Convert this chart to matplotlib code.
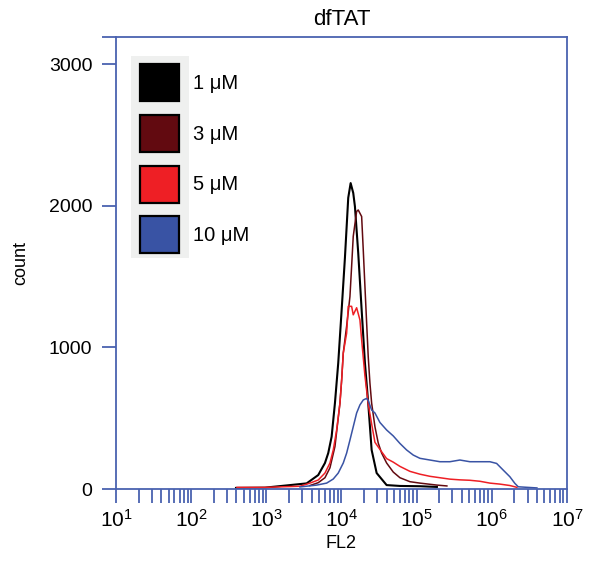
import matplotlib
matplotlib.use('Agg')
import matplotlib.pyplot as plt
from matplotlib.patches import Patch, Rectangle
from matplotlib.ticker import LogLocator, FixedLocator

plt.rcParams['font.family'] = ['Liberation Sans', 'DejaVu Sans']
plt.rcParams['mathtext.default'] = 'regular'

# histogram traces: FL2 intensity vs count
fl2_1uM = [395, 960, 3440, 4910, 6030, 6670, 7400, 8190, 9060, 10060, 11120, 12310, 13250,
           14350, 15110, 16720, 18560, 20530, 22710, 25210, 29400, 39900, 60000, 110700, 186200]
cnt_1uM = [8, 10, 40, 99, 184, 254, 370, 607, 890, 1265, 1632, 2056, 2160,
           2090, 1995, 1666, 1265, 890, 607, 276, 113, 28, 22, 20, 15]

fl2_3uM = [3810, 4910, 6030, 7030, 8190, 9550, 10060, 10570, 11720, 12310, 12970, 13650, 14350,
           15920, 16720, 18560, 19500, 20530, 21630, 22710, 23920, 25210, 27900, 30860, 34250,
           39900, 48900, 60000, 81500, 110700, 186200, 252900]
cnt_3uM = [25, 45, 80, 150, 300, 607, 770, 960, 1150, 1250, 1359, 1571, 1784,
           1960, 1970, 1924, 1689, 1430, 1173, 935, 749, 607, 440, 325, 254,
           184, 120, 80, 52, 42, 28, 22]

fl2_5uM = [407, 960, 2805, 3810, 4910, 6030, 7030, 7780, 8630, 9550, 10060, 10570, 11720,
           12310, 13650, 14350, 15920, 17610, 18560, 20530, 22710, 25210, 27900, 32500, 39900,
           48900, 60000, 81500, 110700, 150300, 204200, 277300, 376700, 511700, 695100, 944100,
           1283000, 1742000, 2163000]
cnt_5uM = [12, 12, 20, 42, 64, 113, 184, 276, 417, 607, 770, 960, 1100,
           1290, 1290, 1230, 1280, 1194, 1053, 800, 600, 460, 330, 280, 215,
           190, 160, 125, 105, 90, 80, 70, 65, 62, 55, 42,
           35, 25, 12]

fl2_10uM = [2805, 4680, 6350, 7780, 9060, 10570, 11720, 12970, 14350, 15920, 17610, 19500, 21630,
            22710, 25210, 27900, 32500, 39900, 48900, 60000, 73600, 90200, 110700, 150300, 204200,
            277300, 376700, 511700, 695100, 944100, 1160000, 1420000, 1742000, 2031000, 2250000, 3990000]
cnt_10uM = [15, 28, 42, 71, 113, 184, 254, 346, 440, 537, 594, 629, 640,
            625, 558, 537, 470, 417, 375, 322, 276, 240, 217, 205, 193,
            193, 205, 193, 193, 193, 181, 134, 87, 40, 16, 8]

labels = ['1 μM', '3 μM', '5 μM', '10 μM']
colors = ['#000000', '#620a10', '#ee1f25', '#3953a4']
axis_blue = '#4a62b0'

fig = plt.figure(figsize=(5.98, 5.72), dpi=100)
ax = fig.add_axes([0.194, 0.145, 0.754, 0.790])

traces = [(fl2_1uM, cnt_1uM), (fl2_3uM, cnt_3uM), (fl2_5uM, cnt_5uM), (fl2_10uM, cnt_10uM)]
for (x, y), c in zip(traces, colors):
    ax.plot(x, y, color=c, lw=1.5 if c == '#000000' else 1.1)

ax.set_xscale('log')
ax.set_xlim(10, 1e7)
ax.set_ylim(0, 3190)

ax.xaxis.set_major_locator(FixedLocator([10**k for k in range(1, 8)]))
ax.set_xticklabels([r'$10^{%d}$' % k for k in range(1, 8)])
ax.xaxis.set_minor_locator(LogLocator(base=10, subs=range(2, 10)))
ax.set_yticks([0, 1000, 2000, 3000])
ax.set_yticks([3190], minor=True)

for s in ax.spines.values():
    s.set_color(axis_blue)
    s.set_linewidth(1.3)
ax.tick_params(axis='x', which='both', direction='out', length=10, width=1.3,
               color=axis_blue, labelsize=15, pad=4)
ax.xaxis.set_tick_params(which='minor', labelbottom=False)
ax.tick_params(axis='y', which='both', direction='out', length=10, width=1.3,
               color=axis_blue, labelsize=14, pad=7)

ax.set_xlabel('FL2', fontsize=13, labelpad=3)
ax.set_ylabel('count', fontsize=13, labelpad=14)
ax.set_title('dfTAT', fontsize=16, pad=9)

# grey panel behind the legend swatches
ax.add_patch(Rectangle((0.0333, 0.511), 0.1286, 0.447, transform=ax.transAxes,
                       facecolor='#eff0ef', edgecolor='none', zorder=3))
handles = [Patch(facecolor=c, edgecolor='black', linewidth=1.6) for c in colors]
leg = ax.legend(handles, labels, loc='upper left', bbox_to_anchor=(0.0532, 0.940),
                frameon=False, fontsize=14.5, handlelength=1.94, handleheight=2.45,
                handletextpad=0.68, labelspacing=0.68, borderpad=0, borderaxespad=0)
leg.set_zorder(4)

fig.savefig('out.png', dpi=100)
